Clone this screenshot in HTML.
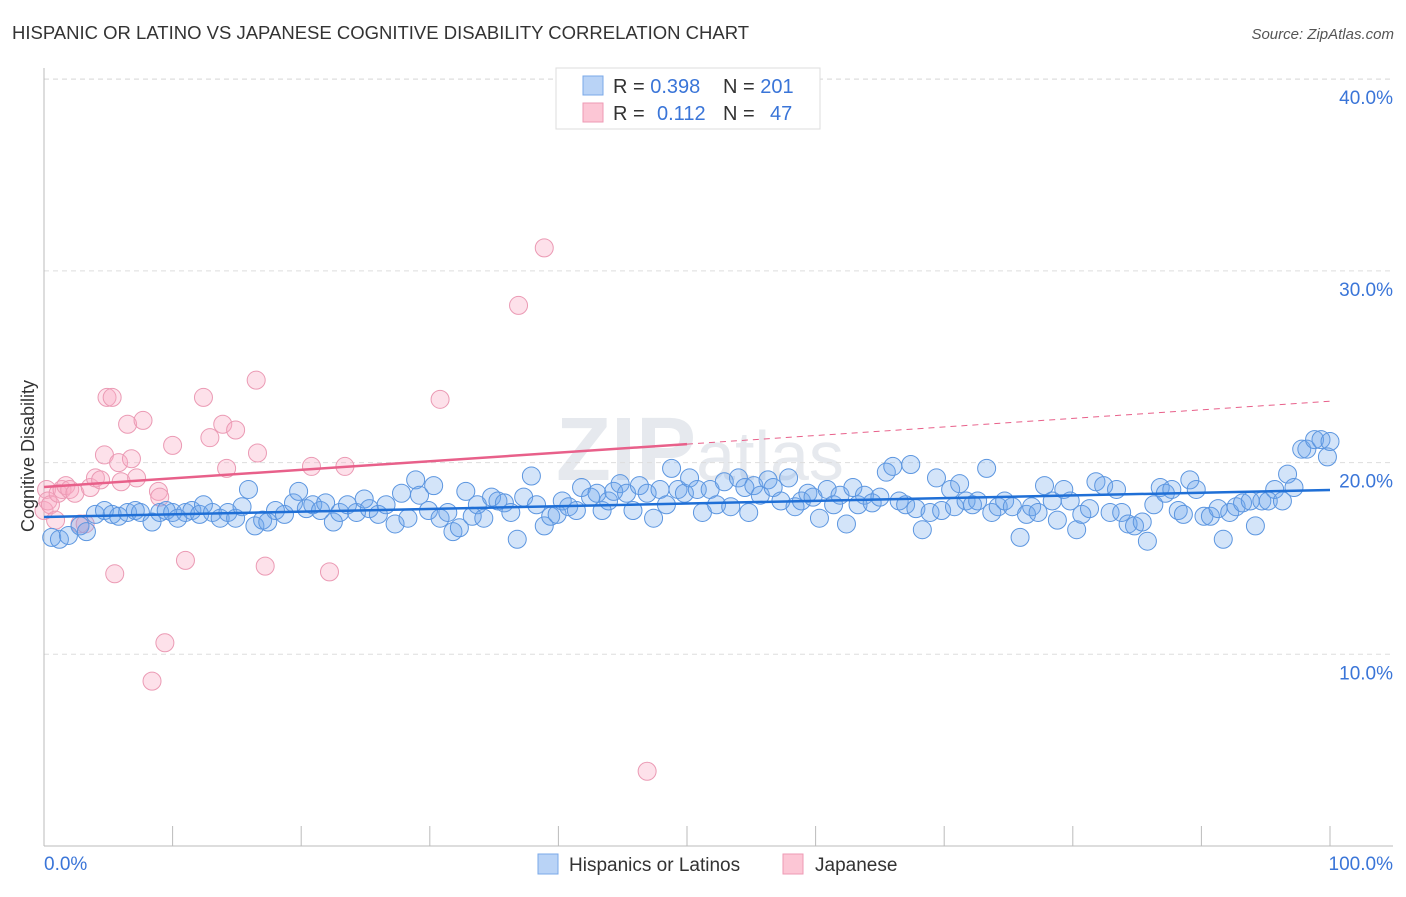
<!DOCTYPE html>
<html><head><meta charset="utf-8"><style>
body{margin:0;background:#fff;font-family:"Liberation Sans",sans-serif;}
svg text{font-family:"Liberation Sans",sans-serif;}
</style></head><body>
<svg id="chart" width="1406" height="892" viewBox="0 0 1406 892" xmlns="http://www.w3.org/2000/svg">
<text x="12" y="39" font-size="18.5" fill="#333">HISPANIC OR LATINO VS JAPANESE COGNITIVE DISABILITY CORRELATION CHART</text>
<text x="1394" y="39" font-size="15" fill="#555" font-style="italic" text-anchor="end">Source: ZipAtlas.com</text>
<text x="700" y="480" font-size="90" fill="#e6e9ee" text-anchor="middle" font-weight="bold">ZIP<tspan font-weight="normal" font-size="70">atlas</tspan></text>
<g id="grid"></g>
<g id="axes"></g>
<g id="marks"></g>
<text x="34" y="456" font-size="18" fill="#333" text-anchor="middle" transform="rotate(-90 34 456)">Cognitive Disability</text>
<g>
<rect x="556" y="68" width="264" height="61" fill="#fff" stroke="#ddd"/>
<rect x="583" y="76" width="20" height="19" fill="#b9d3f6" stroke="#7aa8e8"/>
<rect x="583" y="103" width="20" height="19" fill="#fcc6d5" stroke="#ee9ab4"/>
<text x="613" y="93" font-size="20" fill="#333">R = <tspan fill="#3a75d8">0.398</tspan><tspan x="723">N = </tspan><tspan fill="#3a75d8">201</tspan></text>
<text x="613" y="120" font-size="20" fill="#333">R = <tspan x="657" fill="#3a75d8">0.112</tspan><tspan x="723">N = </tspan><tspan x="770" fill="#3a75d8">47</tspan></text>
</g>
<g>
<rect x="538" y="854" width="20" height="20" fill="#b9d3f6" stroke="#7aa8e8"/>
<text x="569" y="871" font-size="19" fill="#333">Hispanics or Latinos</text>
<rect x="783" y="854" width="20" height="20" fill="#fcc6d5" stroke="#ee9ab4"/>
<text x="815" y="871" font-size="19" fill="#333">Japanese</text>
</g>
</svg>
<script>
const yTicks=[10,20,30,40];
const yTickLabels=["10.0%","20.0%","30.0%","40.0%"];
const xTickVals=[0,10,20,30,40,50,60,70,80,90,100];
const xLabels=["0.0%","100.0%"];
const blueX=[0.6,1.2,1.9,2.8,3.3,4.0,4.7,5.3,5.8,6.5,7.1,7.5,8.4,9.0,9.5,10.0,10.4,11.0,11.5,12.1,12.4,13.1,13.7,14.3,14.9,15.4,15.9,16.4,17.0,17.4,18.0,18.7,19.4,19.8,20.4,20.9,21.5,21.9,22.5,23.0,23.6,24.3,24.9,25.3,26.0,26.6,27.3,27.8,28.3,28.9,29.2,29.9,30.3,30.8,31.4,31.8,32.3,32.8,33.3,33.7,34.2,34.8,35.3,35.8,36.3,36.8,37.3,37.9,38.3,38.9,39.4,39.9,40.3,40.8,41.4,41.8,42.5,43.0,43.4,43.9,44.3,44.8,45.3,45.8,46.3,46.9,47.4,47.9,48.4,48.8,49.3,49.8,50.2,50.8,51.2,51.8,52.3,52.9,53.4,54.0,54.5,54.8,55.2,55.7,56.3,56.7,57.3,57.9,58.4,58.9,59.4,59.8,60.3,60.9,61.4,61.9,62.4,62.9,63.3,63.8,64.4,65.0,65.5,66.0,66.5,67.0,67.4,67.8,68.3,68.9,69.4,69.8,70.5,70.8,71.2,71.7,72.2,72.6,73.3,73.7,74.2,74.7,75.3,75.9,76.4,76.8,77.3,77.8,78.4,78.8,79.3,79.8,80.3,80.7,81.3,81.8,82.4,82.9,83.4,83.8,84.3,84.8,85.4,85.8,86.3,86.8,87.2,87.7,88.2,88.6,89.1,89.6,90.2,90.7,91.3,91.7,92.2,92.7,93.2,93.8,94.2,94.7,95.2,95.7,96.3,96.7,97.2,97.8,98.2,98.8,99.3,99.8,100];
const blueY=[16.1,16.0,16.2,16.7,16.4,17.3,17.5,17.3,17.2,17.4,17.5,17.4,16.9,17.4,17.5,17.4,17.1,17.4,17.5,17.3,17.8,17.4,17.1,17.4,17.1,17.7,18.6,16.7,17.0,16.9,17.5,17.3,17.9,18.5,17.6,17.8,17.5,17.9,16.9,17.4,17.8,17.4,18.1,17.6,17.3,17.8,16.8,18.4,17.1,19.1,18.3,17.5,18.8,17.1,17.4,16.4,16.6,18.5,17.2,17.8,17.1,18.2,18.0,17.9,17.4,16.0,18.2,19.3,17.8,16.7,17.2,17.3,18.0,17.7,17.5,18.7,18.2,18.4,17.5,18.0,18.5,18.9,18.4,17.5,18.8,18.4,17.1,18.6,17.8,19.7,18.6,18.4,19.2,18.6,17.4,18.6,17.8,19.0,17.7,19.2,18.7,17.4,18.8,18.3,19.1,18.7,18.0,19.2,17.7,18.0,18.4,18.2,17.1,18.6,17.8,18.3,16.8,18.7,17.8,18.3,17.9,18.2,19.5,19.8,18.0,17.8,19.9,17.6,16.5,17.4,19.2,17.5,18.6,17.7,18.9,18.0,17.8,18.0,19.7,17.4,17.7,18.0,17.7,16.1,17.3,17.7,17.4,18.8,18.0,17.0,18.6,18.0,16.5,17.3,17.6,19.0,18.8,17.4,18.6,17.4,16.8,16.7,16.9,15.9,17.8,18.7,18.4,18.6,17.5,17.3,19.1,18.6,17.2,17.2,17.6,16.0,17.4,17.7,17.9,18.0,16.7,18.0,18.0,18.6,18.0,19.4,18.7,20.7,20.7,21.2,21.2,20.3,21.1];
const pinkX=[0.0,0.2,0.3,0.5,0.9,1.1,1.4,1.7,2.0,2.4,2.8,3.2,3.6,4.0,4.4,4.7,4.9,5.3,5.5,5.8,6.0,6.5,6.8,7.2,7.7,8.4,8.9,9.0,9.4,10.0,11.0,12.4,12.9,13.9,14.2,14.9,16.5,16.6,17.2,20.8,22.2,23.4,30.8,36.9,38.9,46.9];
const pinkY=[17.5,18.6,18.0,17.8,17.0,18.4,18.6,18.8,18.6,18.4,16.8,16.8,18.7,19.2,19.1,20.4,23.4,23.4,14.2,20.0,19.0,22.0,20.2,19.2,22.2,8.6,18.5,18.2,10.6,20.9,14.9,23.4,21.3,22.0,19.7,21.7,24.3,20.5,14.6,19.8,14.3,19.8,23.3,28.2,31.2,3.9];
const blueTrend=[17.16,18.57];
const pinkTrend=[18.73,23.2];
const pinkSolidEnd=50;

const NS="http://www.w3.org/2000/svg";
const X0=44,X1=1330,Y0=846,PPY=19.17;
function sx(v){return X0+(X1-X0)*v/100;}
function sy(v){return Y0-v*PPY;}
function mk(tag,attrs,parent){const e=document.createElementNS(NS,tag);for(const k in attrs)e.setAttribute(k,attrs[k]);parent.appendChild(e);return e;}
const grid=document.getElementById('grid'),axes=document.getElementById('axes'),marks=document.getElementById('marks');
yTicks.forEach((t,i)=>{
 const l=mk('line',{x1:X0,x2:1393,y1:sy(t),y2:sy(t),stroke:'#ddd','stroke-dasharray':'5,4'},grid);
 
 
 const tx=mk('text',{x:1393,y:sy(t)+25,'font-size':19,fill:'#3a75d8','text-anchor':'end'},axes);
 tx.textContent=yTickLabels[i];
 
 
});
const topG=mk('line',{x1:X0,x2:1393,y1:79,y2:79,stroke:'#ddd','stroke-dasharray':'5,4'},grid);
const ya=mk('line',{x1:X0,x2:X0,y1:68,y2:Y0,stroke:'#bbb'},axes);


const xa=mk('line',{x1:X0,x2:1393,y1:Y0,y2:Y0,stroke:'#bbb'},axes);


xTickVals.forEach(t=>{
 const l=mk('line',{x1:sx(t),x2:sx(t),y1:826,y2:Y0,stroke:'#bbb'},axes);
 
 
});
const xl0=mk('text',{x:44,y:870,'font-size':19,fill:'#3a75d8'},axes);xl0.textContent=xLabels[0];


const xl1=mk('text',{x:1393,y:870,'font-size':19,fill:'#3a75d8','text-anchor':'end'},axes);xl1.textContent=xLabels[1];


pinkX.forEach((v,i)=>{
 const c=mk('circle',{cx:sx(v),cy:sy(pinkY[i]),r:9,fill:'rgba(248,170,195,0.35)',stroke:'#eb9ab4','stroke-width':1},marks);
 
 
});
blueX.forEach((v,i)=>{
 const c=mk('circle',{cx:sx(v),cy:sy(blueY[i]),r:9,fill:'rgba(110,165,235,0.3)',stroke:'#5c96e0','stroke-width':1},marks);
 
 
});
const pAt=x=>pinkTrend[0]+(pinkTrend[1]-pinkTrend[0])*x/100;
const pd=mk('line',{x1:sx(pinkSolidEnd),y1:sy(pAt(pinkSolidEnd)),x2:sx(100),y2:sy(pinkTrend[1]),stroke:'#e8608a','stroke-width':1,'stroke-dasharray':'6,5'},marks);


const ps=mk('line',{x1:sx(0),y1:sy(pinkTrend[0]),x2:sx(pinkSolidEnd),y2:sy(pAt(pinkSolidEnd)),stroke:'#e8608a','stroke-width':2.5},marks);


const bl=mk('line',{x1:sx(0),y1:sy(blueTrend[0]),x2:sx(100),y2:sy(blueTrend[1]),stroke:'#1f6fd6','stroke-width':2.5},marks);


</script>
</body></html>
